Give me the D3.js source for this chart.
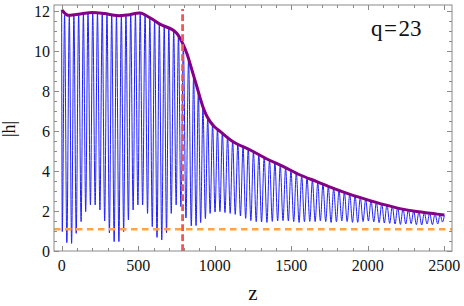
<!DOCTYPE html>
<html>
<head>
<meta charset="utf-8">
<script src="https://cdn.jsdelivr.net/npm/d3@7"></script>
<style>
  body { margin: 0; background: #fff; }
  svg { display: block; }
</style>
</head>
<body>
<div id="body"></div>
<script>
// blue curve: trough points
var troughZ = [4, 34, 65, 95, 127, 157, 188, 219, 250, 281, 312, 343, 374, 405, 436, 467, 498, 529, 561, 592,
               623, 654, 685, 716, 748, 779, 812, 847, 878, 908, 939, 970, 1002, 1034, 1067, 1101, 1134, 1168, 1202, 1236,
               1271, 1306, 1341, 1376, 1411, 1446, 1481, 1516, 1551, 1586, 1621, 1656, 1690, 1725, 1760, 1795, 1830, 1865, 1900, 1934,
               1969, 2004, 2039, 2074, 2108, 2143, 2178, 2213, 2248, 2283, 2317, 2352, 2387, 2422, 2457, 2488];
var troughH = [0.97, 0.42, 0.38, 0.88, 1.47, 1.97, 2.3, 2.3, 2.05, 1.5, 0.9, 0.47, 0.47, 0.97, 1.55, 2.05, 2.3, 2.3, 1.88, 1.22,
               0.68, 0.55, 0.92, 1.88, 2.3, 2.22, 1.65, 1.25, 1.27, 1.42, 1.62, 1.88, 1.95, 1.97, 1.92, 1.88, 1.83, 1.75, 1.63, 1.52,
               1.47, 1.45, 1.43, 1.48, 1.5, 1.52, 1.5, 1.47, 1.43, 1.46, 1.48, 1.47, 1.5, 1.47, 1.43, 1.46, 1.5, 1.47, 1.43, 1.43,
               1.47, 1.5, 1.46, 1.42, 1.4, 1.38, 1.35, 1.33, 1.35, 1.37, 1.32, 1.3, 1.35, 1.32, 1.35, 1.45];
// blue curve: peak points (they touch the envelope)
var peakZ = [0, 19, 50, 80, 111, 142, 172, 203, 234, 265, 296, 327, 358, 390, 420, 451, 482, 513, 545, 576,
             607, 638, 670, 700, 732, 763, 795, 829, 862, 893, 923, 954, 986, 1018, 1050, 1084, 1117, 1151, 1185, 1219,
             1253, 1288, 1323, 1358, 1393, 1428, 1463, 1498, 1533, 1568, 1603, 1638, 1673, 1707, 1742, 1777, 1812, 1847, 1882, 1917,
             1951, 1986, 2021, 2056, 2091, 2125, 2160, 2195, 2230, 2265, 2300, 2334, 2369, 2404, 2439, 2472, 2500];
var peakH = [11.95, 11.78, 11.75, 11.8, 11.82, 11.85, 11.88, 11.9, 11.9, 11.87, 11.83, 11.78, 11.75, 11.75, 11.77, 11.8, 11.85, 11.87, 11.8, 11.65,
             11.5, 11.35, 11.25, 11.15, 11.0, 10.8, 10.3, 9.6, 8.75, 7.95, 7.15, 6.65, 6.32, 6.1, 5.92, 5.72, 5.5, 5.35, 5.2, 5.1,
             4.95, 4.8, 4.67, 4.55, 4.42, 4.3, 4.15, 4.02, 3.9, 3.77, 3.65, 3.53, 3.42, 3.32, 3.2, 3.12, 3.03, 2.93, 2.84, 2.77,
             2.69, 2.6, 2.53, 2.45, 2.38, 2.32, 2.25, 2.18, 2.12, 2.06, 2.01, 1.96, 1.92, 1.89, 1.86, 1.83, 1.78];

// purple envelope
var envZ = [0, 36, 69, 130, 200, 280, 362, 430, 514, 557, 601, 645, 720, 753, 785, 818, 851, 884, 906, 927, 948, 972, 1000,
            1035, 1123, 1232, 1341, 1449, 1558, 1667, 1776, 1884, 1993, 2101, 2210, 2319, 2427, 2500];
var envH = [12.06, 11.8, 11.8, 11.86, 11.93, 11.87, 11.77, 11.8, 11.9, 11.75, 11.55, 11.33, 11.08, 10.88, 10.47, 9.88, 9.05, 8.2, 7.62, 7.12, 6.75, 6.45, 6.2,
            5.98, 5.45, 5.05, 4.6, 4.22, 3.8, 3.47, 3.13, 2.83, 2.57, 2.33, 2.12, 1.97, 1.87, 1.8];

var zMark = 790;      // red dashed vertical
var hMark = 1.085;    // orange dashed horizontal
var xTicks = [0, 500, 1000, 1500, 2000, 2500];
var yTicks = [0, 2, 4, 6, 8, 10, 12];

var serif = "'Liberation Serif', 'Times New Roman', Times, serif";

var W = 464, H = 306;
var margin = {top: 5, right: 12, bottom: 55, left: 54},
    width = W - margin.left - margin.right,
    height = H - margin.top - margin.bottom;

var x = d3.scaleLinear().domain([-50, 2550]).range([0, width]);
var y = d3.scaleLinear().domain([0, 12.3]).range([height, 0]);

var svg = d3.select("#body").append("svg")
    .attr("width", W)
    .attr("height", H);

var g = svg.append("g")
    .attr("transform", "translate(" + margin.left + "," + margin.top + ")");

g.append("clipPath").attr("id", "clip")
  .append("rect").attr("width", width).attr("height", height);

var plot = g.append("g").attr("clip-path", "url(#clip)");

// merge troughs and peaks into one path
var blue = [];
peakZ.forEach(function(z, i) { blue.push({z: z, h: peakH[i]}); });
troughZ.forEach(function(z, i) { blue.push({z: z, h: troughH[i]}); });
blue.sort(function(a, b) { return a.z - b.z; });

var line = d3.line()
    .x(function(d) { return x(d.z); })
    .y(function(d) { return y(d.h); })
    .curve(d3.curveMonotoneX);

plot.append("path")
    .datum(blue)
    .attr("d", line)
    .attr("fill", "none")
    .attr("stroke", "#2020ff")
    .attr("stroke-width", 1);

var env = envZ.map(function(z, i) { return {z: z, h: envH[i]}; });
plot.append("path")
    .datum(env)
    .attr("d", line.curve(d3.curveCatmullRom))
    .attr("fill", "none")
    .attr("stroke", "#850085")
    .attr("stroke-width", 3)
    .attr("stroke-linejoin", "round");

plot.append("line")
    .attr("x1", 0).attr("x2", width)
    .attr("y1", y(hMark)).attr("y2", y(hMark))
    .attr("stroke", "#ffa347")
    .attr("stroke-width", 2.6)
    .attr("stroke-dasharray", "6.5,4.5");

plot.append("line")
    .attr("x1", x(zMark)).attr("x2", x(zMark))
    .attr("y1", y(0)).attr("y2", y(12.1))
    .attr("stroke", "#f25757")
    .attr("stroke-width", 2.8)
    .attr("stroke-dasharray", "6.7,3.3");

// frame + ticks
var frameColor = "#8a8a8a";
g.append("rect")
    .attr("x", 0).attr("y", 0)
    .attr("width", width).attr("height", height)
    .attr("fill", "none")
    .attr("stroke", frameColor)
    .attr("stroke-width", 1);

var xMinor = d3.range(0, 2600, 100);
var yMinor = d3.range(0, 12.3, 0.5);

function tickLen(isMajor) { return isMajor ? 5 : 3; }

xMinor.forEach(function(v) {
  var major = v % 500 === 0;
  var px = Math.round(x(v)) + 0.5;
  g.append("line").attr("x1", px).attr("x2", px).attr("y1", height).attr("y2", height - tickLen(major))
      .attr("stroke", frameColor);
  g.append("line").attr("x1", px).attr("x2", px).attr("y1", 0).attr("y2", tickLen(major))
      .attr("stroke", frameColor);
});
yMinor.forEach(function(v) {
  var major = v % 2 === 0;
  var py = Math.round(y(v)) + 0.5;
  g.append("line").attr("x1", 0).attr("x2", tickLen(major)).attr("y1", py).attr("y2", py)
      .attr("stroke", frameColor);
  g.append("line").attr("x1", width).attr("x2", width - tickLen(major)).attr("y1", py).attr("y2", py)
      .attr("stroke", frameColor);
});

g.selectAll(".xl").data(xTicks).enter().append("text")
    .attr("font-family", serif)
    .attr("font-size", 16)
    .attr("fill", "#111")
    .attr("x", function(d) { return x(d); })
    .attr("y", height + 20)
    .attr("text-anchor", "middle")
    .text(function(d) { return d; });

g.selectAll(".yl").data(yTicks).enter().append("text")
    .attr("font-family", serif)
    .attr("font-size", 16)
    .attr("fill", "#111")
    .attr("x", -4)
    .attr("y", function(d) { return y(d) + 5.5; })
    .attr("text-anchor", "end")
    .text(function(d) { return d; });

g.append("text")
    .attr("font-family", serif)
    .attr("font-size", 21)
    .attr("fill", "#111")
    .attr("x", width / 2)
    .attr("y", height + 49)
    .attr("text-anchor", "middle")
    .text("z");

g.append("text")
    .attr("font-family", serif)
    .attr("font-size", 18)
    .attr("fill", "#111")
    .attr("transform", "translate(-39.5," + (height / 2 + 1) + ") rotate(-90)")
    .attr("text-anchor", "middle")
    .text("|h|");

var qLabel = g.append("text")
    .attr("font-family", serif)
    .attr("font-size", 23)
    .attr("fill", "#111")
    .attr("x", 317)
    .attr("y", 31);
qLabel.append("tspan").text("q");
qLabel.append("tspan").attr("dx", 1.5).text("=");
qLabel.append("tspan").attr("dx", 1.5).text("23");
</script>
</body>
</html>
